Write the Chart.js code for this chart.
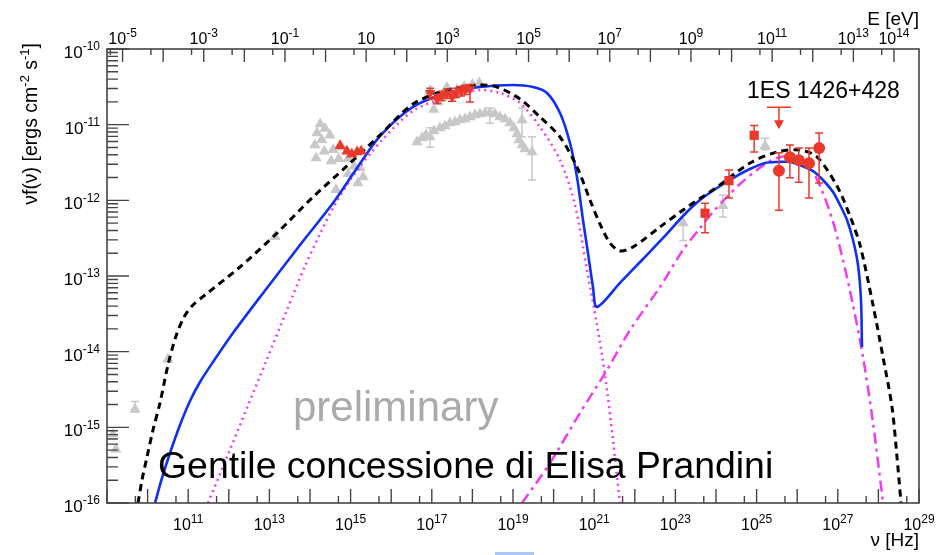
<!DOCTYPE html>
<html><head><meta charset="utf-8">
<script src="https://cdn.jsdelivr.net/npm/chart.js@4.4.1/dist/chart.umd.min.js"></script>
<style>html,body{margin:0;padding:0;background:#fff;}#wrap{width:937px;height:555px;position:relative}</style>
</head><body><div id="wrap"><canvas id="c" width="937" height="555"></canvas></div>
<script>
// ---- values are log10(nu [Hz]) and log10(nu f(nu) [erg cm^-2 s^-1]) ----
const totalLogNu = [9.764,9.862,9.985,10.133,10.305,10.502,10.700,10.897,11.118,11.414,12.276,13.138,14.074,14.911,15.724,16.537,17.374,18.187,18.606,19.172,19.665,20.158,20.576,20.897,21.143,21.389,21.635,21.956,22.621,23.187,24.025,24.837,25.502,26.069,26.488,26.980,27.300,27.547,27.867,28.113,28.335,28.458,28.557];
const totalLogF  = [-16.0,-15.696,-15.392,-15.035,-14.678,-14.176,-13.793,-13.542,-13.383,-13.251,-12.881,-12.458,-11.956,-11.546,-11.137,-10.727,-10.542,-10.476,-10.502,-10.661,-10.899,-11.163,-11.559,-11.996,-12.313,-12.564,-12.669,-12.617,-12.352,-12.128,-11.824,-11.507,-11.361,-11.335,-11.427,-11.810,-12.207,-12.590,-13.383,-14.070,-14.731,-15.392,-16.0];

const blueLogNu = [10.182,10.355,10.552,10.798,11.044,11.291,11.611,12.103,12.941,13.754,14.567,15.158,15.724,16.537,17.374,18.187,18.999,19.493,19.837,20.158,20.404,20.576,20.724,20.847,20.970,21.069,21.635,22.202,22.744,23.187,23.606,24.025,24.419,24.837,25.207,25.502,25.823,26.069,26.389,26.635,26.882,27.054,27.227,27.374,27.498,27.571,27.596];
const blueLogF  = [-16.0,-15.669,-15.339,-14.969,-14.652,-14.401,-14.136,-13.753,-13.158,-12.590,-12.035,-11.573,-11.150,-10.766,-10.581,-10.502,-10.476,-10.502,-10.581,-10.846,-11.242,-11.692,-12.260,-12.696,-13.145,-13.410,-13.092,-12.775,-12.471,-12.207,-11.996,-11.837,-11.705,-11.586,-11.507,-11.493,-11.493,-11.533,-11.612,-11.731,-11.890,-12.062,-12.260,-12.524,-12.855,-13.317,-13.938];

const syncLogNu = [11.488,11.956,12.448,12.941,13.433,13.877,14.246,14.567,15.059,15.798,16.537,17.374,18.187,18.680,19.172,19.665,20.158,20.527,20.823,21.069,21.266,21.463,21.635];
const syncLogF  = [-16.0,-15.392,-14.744,-14.097,-13.449,-12.868,-12.445,-12.101,-11.678,-11.189,-10.819,-10.634,-10.542,-10.581,-10.714,-11.031,-11.467,-12.062,-12.921,-13.647,-14.308,-15.167,-16.0];

const icLogNu = [19.222,19.911,20.650,21.315,21.882,22.621,23.187,23.606,23.926,24.271,24.591,25.010,25.330,25.749,26.143,26.389,26.635,26.882,27.128,27.374,27.621,27.867,28.113];
const icLogF  = [-16.0,-15.471,-14.810,-14.242,-13.714,-13.145,-12.656,-12.366,-12.154,-11.956,-11.784,-11.599,-11.480,-11.414,-11.480,-11.625,-11.903,-12.286,-12.788,-13.383,-14.070,-14.942,-15.987];

const grayLogNu = [9.15,9.22,9.69,10.50,13.14,
  14.25,14.17,14.37,14.12,14.29,14.49,14.15,14.35,14.57,14.71,14.52,14.94,15.09,15.23,15.31,15.18,14.94,14.64,14.78,
  16.88,16.96,17.05,17.15,17.25,17.37,17.48,17.62,17.80,18.00,18.17,
  16.635,16.759,16.857,16.956,17.054,17.202,17.325,17.448,17.571,17.695,17.818,17.941,18.064,18.187,18.310,18.433,18.557,18.680,18.803,18.926,19.025,19.099,19.148,19.222,19.296,19.468,19.222,
  23.19,24.17,25.21];
const grayLogF = [-15.09,-15.29,-14.76,-14.10,-12.48,
  -10.99,-11.11,-11.05,-11.27,-11.20,-11.14,-11.44,-11.35,-11.33,-11.45,-11.48,-11.45,-11.55,-11.57,-11.69,-11.77,-11.65,-11.86,-11.30,
  -10.64,-10.55,-10.80,-10.70,-10.62,-10.51,-10.58,-10.54,-10.50,-10.47,-10.45,
  -11.229,-11.176,-11.137,-11.163,-11.084,-11.044,-11.018,-10.978,-10.965,-10.938,-10.925,-10.899,-10.872,-10.859,-10.846,-10.846,-10.859,-10.899,-10.925,-10.978,-11.044,-11.123,-11.203,-11.269,-11.322,-11.361,-10.938,
  -12.30,-12.07,-11.28];
const grayErrLo = [null,null,-14.80,null,null,
  null,null,null,null,null,null,null,null,null,null,null,null,null,null,null,null,null,null,null,
  null,null,null,null,null,null,null,null,null,null,null,
  null,null,null,-11.30,null,null,null,null,null,null,null,null,null,null,null,-10.98,null,null,null,null,null,null,null,null,null,-11.73,-11.16,
  -12.53,-12.22,-11.33];
const grayErrHi = [null,null,-14.66,null,null,
  null,null,null,null,null,null,null,null,null,null,null,null,null,null,null,null,null,null,null,
  null,null,null,null,null,null,null,null,null,null,null,
  null,null,null,-11.04,null,null,null,null,null,null,null,null,null,null,null,-10.78,null,null,null,null,null,null,null,null,null,-11.16,-10.78,
  -12.14,-11.93,-11.18];

const redUpLogNu = [14.74,14.91,15.03,15.16,15.26];
const redUpLogF  = [-11.28,-11.35,-11.39,-11.36,-11.35];

const redDownLogNu = [16.96,17.13,17.25,17.37,17.50,17.60,17.72,17.82,17.94];
const redDownLogF  = [-10.58,-10.66,-10.62,-10.59,-10.63,-10.58,-10.56,-10.54,-10.53];
const redDownErrLo = [-10.66,-10.72,-10.68,-10.65,-10.69,-10.64,-10.62,-10.60,-10.70];
const redDownErrHi = [-10.52,-10.60,-10.56,-10.53,-10.57,-10.52,-10.50,-10.48,-10.47];

const redSqLogNu  = [23.73,24.32,24.94];
const redSqLogF   = [-12.17,-11.74,-11.14];
const redSqErrLo  = [-12.43,-11.97,-11.36];
const redSqErrHi  = [-12.04,-11.60,-11.01];

const redCircLogNu = [25.55,25.82,26.04,26.29,26.54];
const redCircLogF  = [-11.61,-11.43,-11.47,-11.51,-11.31];
const redCircErrLo = [-12.13,-11.70,-11.76,-11.97,-11.77];
const redCircErrHi = [-11.37,-11.27,-11.31,-11.31,-11.11];

const ulLogNu = [25.55];
const ulLogF  = [-10.77];

// tick labels
const nuLabelExps = [11,13,15,17,19,21,23,25,27,29];
const eLabelExps  = [-5,-3,-1,1,3,5,7,9,11,13,14];
const yLabelExps  = [-10,-11,-12,-13,-14,-15,-16];
const LOG_NU_PER_EV = 14.3834; // log10(1/h) with h in eV s

const FONT = '"Liberation Sans", Arial, Helvetica, sans-serif';
const RED = '#e8392b', GRAY = '#c8c8c8';

function pts(xs, ys){ return xs.map((x,i)=>({x:x, y:ys[i]})); }

const errPlugin = {
  id:'errbars',
  beforeDatasetDraw(chart, args){
    const ds = chart.data.datasets[args.index];
    if(!ds.errLo) return;
    const ctx = chart.ctx, xs = chart.scales.x, ys = chart.scales.y, ca = chart.chartArea;
    ctx.save();
    ctx.beginPath(); ctx.rect(ca.left, ca.top, ca.right-ca.left, ca.bottom-ca.top); ctx.clip();
    ctx.strokeStyle = ds.errColor; ctx.lineWidth = 1.5;
    ds.data.forEach((p,i)=>{
      const lo = ds.errLo[i], hi = ds.errHi[i];
      if(lo==null) return;
      const px = xs.getPixelForValue(p.x), yl = ys.getPixelForValue(lo), yh = ys.getPixelForValue(hi);
      ctx.beginPath();
      ctx.moveTo(px, yl); ctx.lineTo(px, yh);
      ctx.moveTo(px-4, yl); ctx.lineTo(px+4, yl);
      ctx.moveTo(px-4, yh); ctx.lineTo(px+4, yh);
      ctx.stroke();
    });
    ctx.restore();
  }
};

function supText(ctx, base, exp, x, y, align, bsize, esize){
  ctx.font = bsize+'px '+FONT;
  const wb = ctx.measureText(base).width;
  let we = 0;
  if(exp!==null){ ctx.font = esize+'px '+FONT; we = ctx.measureText(exp).width; }
  const w = wb+we;
  let sx = align==='center' ? x - w/2 : (align==='right' ? x - w : x);
  ctx.textAlign='left'; ctx.textBaseline='alphabetic';
  ctx.font = bsize+'px '+FONT; ctx.fillText(base, sx, y);
  if(exp!==null){ ctx.font = esize+'px '+FONT; ctx.fillText(exp, sx+wb, y - bsize*0.45); }
}

const axesPlugin = {
  id:'rootaxes',
  afterDraw(chart){
    const ctx = chart.ctx, xs = chart.scales.x, ys = chart.scales.y, ca = chart.chartArea;
    ctx.save();
    // upper limit arrow
    ctx.strokeStyle = RED; ctx.fillStyle = RED; ctx.lineWidth = 1.5;
    ulLogNu.forEach((v,i)=>{
      const px = xs.getPixelForValue(v), py = ys.getPixelForValue(ulLogF[i]);
      ctx.beginPath(); ctx.moveTo(px-12, py); ctx.lineTo(px+12, py);
      ctx.moveTo(px, py); ctx.lineTo(px, py+15); ctx.stroke();
      ctx.beginPath(); ctx.moveTo(px-5, py+13); ctx.lineTo(px+5, py+13); ctx.lineTo(px, py+22); ctx.closePath(); ctx.fill();
    });
    // frame
    ctx.strokeStyle = '#444'; ctx.lineWidth = 1.6;
    ctx.strokeRect(ca.left, ca.top, ca.right-ca.left, ca.bottom-ca.top);
    ctx.lineWidth = 1.4;
    ctx.beginPath();
    for(let d=9; d<=29; d++){
      const px = xs.getPixelForValue(d);
      ctx.moveTo(px, ca.bottom); ctx.lineTo(px, ca.bottom-14);
      const m = d+Math.log10(5);
      if(m<29){ const pm = xs.getPixelForValue(m); ctx.moveTo(pm, ca.bottom); ctx.lineTo(pm, ca.bottom-7); }
    }
    for(let e=-6; e<=15; e++){
      const v = e + LOG_NU_PER_EV;
      if(v>=9 && v<=29){ const px = xs.getPixelForValue(v); ctx.moveTo(px, ca.top); ctx.lineTo(px, ca.top+13); }
      const m = v+Math.log10(5);
      if(m>9 && m<29){ const pm = xs.getPixelForValue(m); ctx.moveTo(pm, ca.top); ctx.lineTo(pm, ca.top+6); }
    }
    for(let d=-16; d<=-10; d++){
      const py = ys.getPixelForValue(d);
      ctx.moveTo(ca.left, py); ctx.lineTo(ca.left+22, py);
      if(d<-10){ for(let k=2;k<=9;k++){ const pm = ys.getPixelForValue(d+Math.log10(k)); ctx.moveTo(ca.left, pm); ctx.lineTo(ca.left+11, pm);} }
    }
    ctx.stroke();
    // labels
    ctx.fillStyle = '#000';
    nuLabelExps.forEach(e=>{ supText(ctx,'10',String(e), xs.getPixelForValue(e), ca.bottom+27, 'center', 16, 12); });
    eLabelExps.forEach(e=>{ supText(ctx,'10', e===1?null:String(e), xs.getPixelForValue(e+LOG_NU_PER_EV), ca.top-5, 'center', 16, 12); });
    yLabelExps.forEach(e=>{ supText(ctx,'10',String(e), 100, ys.getPixelForValue(e)+9, 'right', 17, 12); });
    // axis titles
    ctx.font = '19px '+FONT; ctx.textAlign='right'; ctx.textBaseline='alphabetic';
    ctx.fillText('\u03bd [Hz]', ca.right, 546);
    ctx.fillText('E [eV]', ca.right, 25);
    ctx.save();
    ctx.translate(37, 43); ctx.rotate(-Math.PI/2);
    const parts = [['\u03bdf(\u03bd) [ergs cm',0],['-2',1],[' s',0],['-1',1],[']',0]];
    let tot = 0;
    parts.forEach(p=>{ ctx.font = (p[1]?13:19.5)+'px '+FONT; tot += ctx.measureText(p[0]).width; });
    let cx = -tot; ctx.textAlign='left';
    parts.forEach(p=>{ ctx.font = (p[1]?13:19.5)+'px '+FONT; ctx.fillText(p[0], cx, p[1]? -8 : 0); cx += ctx.measureText(p[0]).width; });
    ctx.restore();
    // annotations
    ctx.textAlign='left';
    ctx.font = '23px '+FONT; ctx.fillStyle='#000'; ctx.fillText('1ES 1426+428', 747, 98);
    ctx.font = '42px '+FONT; ctx.fillStyle='#aaaaaa'; ctx.fillText('preliminary', 293, 421);
    ctx.font = '37.4px '+FONT; ctx.fillStyle='#000'; ctx.fillText('Gentile concessione di Elisa Prandini', 158, 478);
    ctx.fillStyle = '#a9c8f2'; ctx.fillRect(495, 552, 39, 3);
    ctx.restore();
  }
};

const lineCommon = {showLine:true, pointRadius:0, fill:false, tension:0.3};

new Chart(document.getElementById('c'), {
  type:'scatter',
  data:{ datasets:[
    {label:'archival', data:pts(grayLogNu,grayLogF), pointStyle:'triangle', pointRadius:6.5, backgroundColor:GRAY, borderColor:GRAY, borderWidth:0, errLo:grayErrLo, errHi:grayErrHi, errColor:GRAY, order:10, clip:false},
    Object.assign({label:'sync', data:pts(syncLogNu,syncLogF), borderColor:'#ee3cee', borderWidth:2.5, borderDash:[2,4], order:6}, lineCommon),
    Object.assign({label:'ic', data:pts(icLogNu,icLogF), borderColor:'#ee3cee', borderWidth:2.5, borderDash:[11,5,3,5], order:6}, lineCommon),
    Object.assign({label:'total2', data:pts(blueLogNu,blueLogF), borderColor:'#1030f0', borderWidth:2.6, order:5}, lineCommon),
    Object.assign({label:'total1', data:pts(totalLogNu,totalLogF), borderColor:'#000', borderWidth:3, borderDash:[7,5], order:4}, lineCommon),
    {label:'uv', data:pts(redUpLogNu,redUpLogF), pointStyle:'triangle', pointRadius:6.5, backgroundColor:RED, borderColor:RED, borderWidth:0, order:2},
    {label:'xray', data:pts(redDownLogNu,redDownLogF), pointStyle:'triangle', pointRotation:180, pointRadius:6, backgroundColor:RED, borderColor:RED, borderWidth:0, errLo:redDownErrLo, errHi:redDownErrHi, errColor:RED, order:2},
    {label:'fermi', data:pts(redSqLogNu,redSqLogF), pointStyle:'rect', pointRadius:6.5, backgroundColor:RED, borderColor:RED, borderWidth:0, errLo:redSqErrLo, errHi:redSqErrHi, errColor:RED, order:1},
    {label:'magic', data:pts(redCircLogNu,redCircLogF), pointStyle:'circle', pointRadius:6, backgroundColor:RED, borderColor:RED, borderWidth:0, errLo:redCircErrLo, errHi:redCircErrHi, errColor:RED, order:1}
  ]},
  options:{
    responsive:false, animation:false, devicePixelRatio:1,
    layout:{padding:{left:107,right:18,top:49,bottom:52}},
    plugins:{legend:{display:false}, tooltip:{enabled:false}},
    scales:{
      x:{type:'linear', min:9, max:29, display:false},
      y:{type:'linear', min:-16, max:-10, display:false}
    }
  },
  plugins:[errPlugin, axesPlugin]
});
</script></body></html>
